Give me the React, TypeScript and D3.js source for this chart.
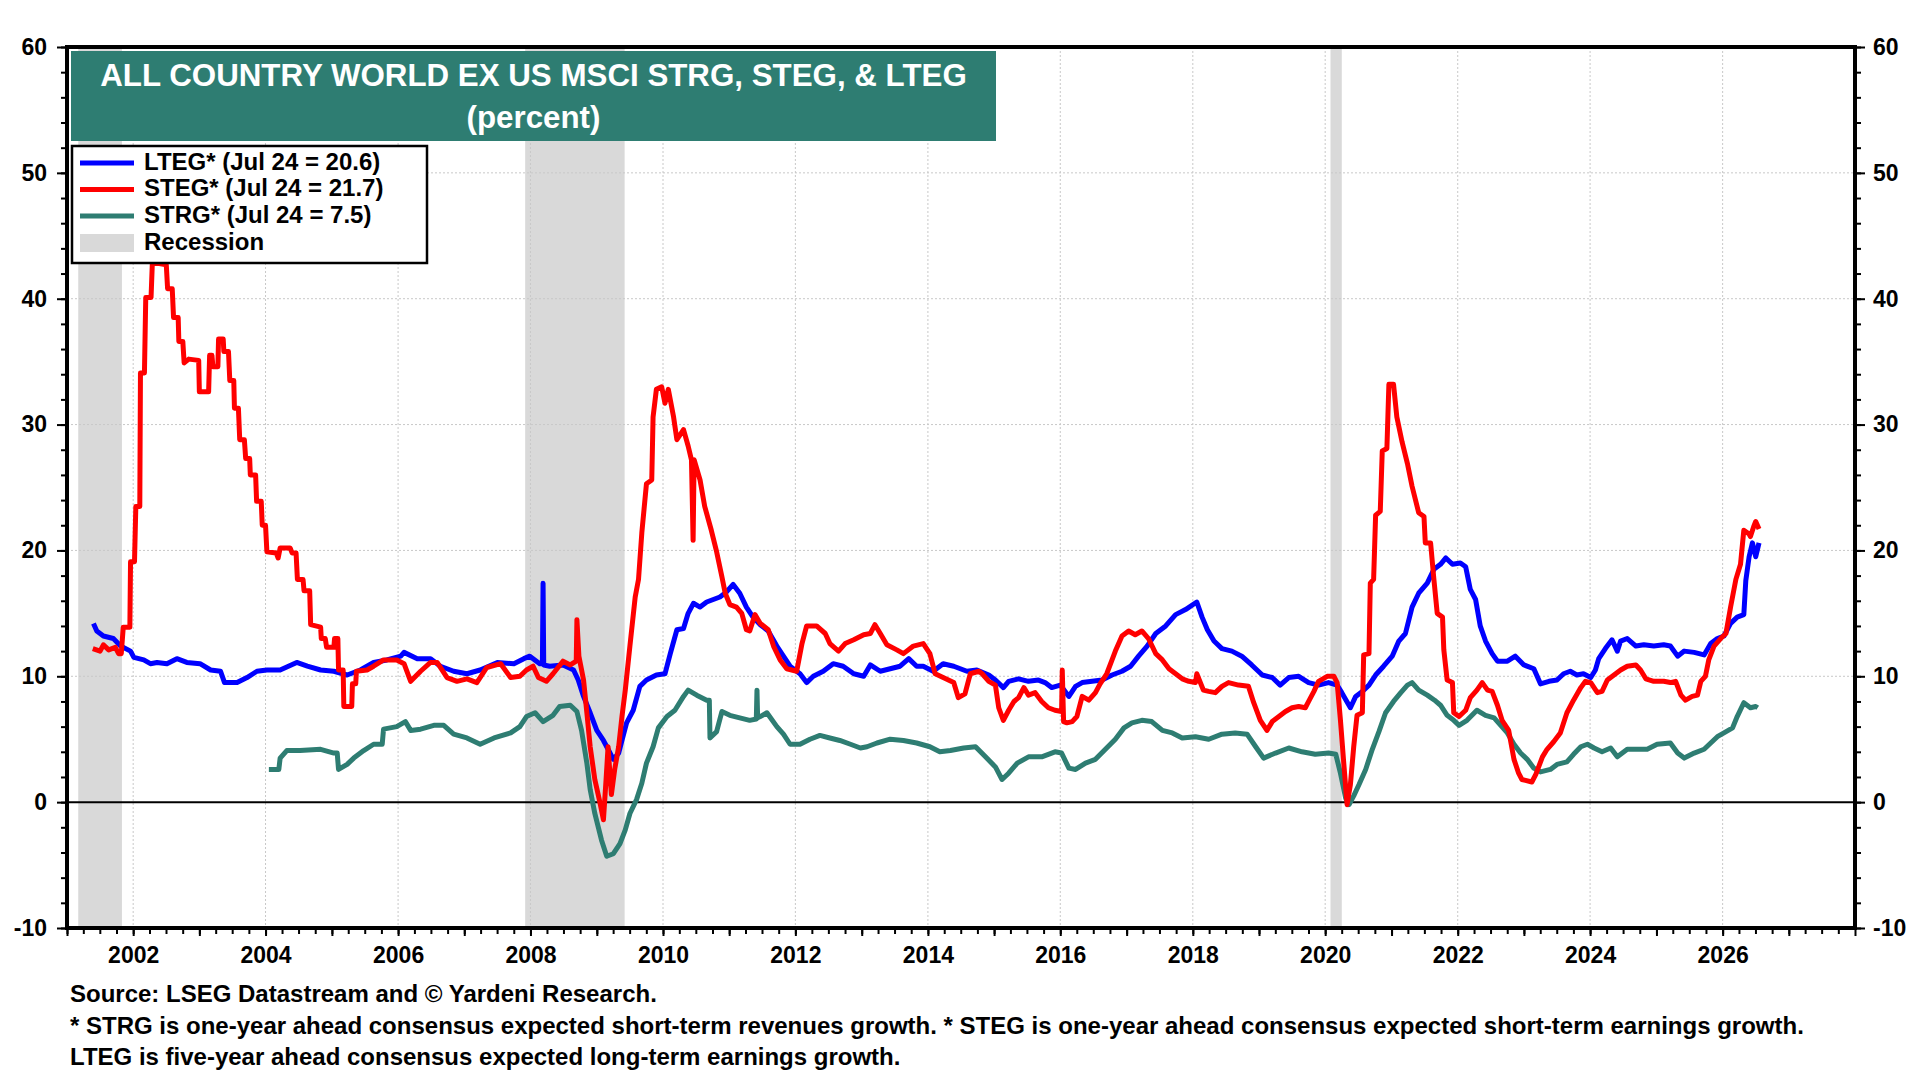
import * as d3 from 'd3';
import { useEffect, useRef } from 'react';

type Point = [number, number]; // [decimal year, percent]

// five-year ahead consensus expected long-term earnings growth
const LTEG: Point[] = [
    [2001.40, 14.2], [2001.45, 13.6], [2001.55, 13.2], [2001.70, 13.0], [2001.81, 12.4], [2001.96, 12.0],
    [2002.01, 11.5], [2002.16, 11.3], [2002.26, 11.0], [2002.36, 11.1], [2002.51, 11.0], [2002.66, 11.4],
    [2002.81, 11.1], [2003.01, 11.0], [2003.17, 10.5], [2003.32, 10.4], [2003.38, 9.5], [2003.57, 9.5],
    [2003.72, 9.9], [2003.87, 10.4], [2004.02, 10.5], [2004.22, 10.5], [2004.47, 11.1], [2004.63, 10.8],
    [2004.83, 10.5], [2005.03, 10.4], [2005.23, 10.1], [2005.43, 10.5], [2005.63, 11.1], [2005.83, 11.3],
    [2006.04, 11.6], [2006.09, 11.9], [2006.29, 11.4], [2006.49, 11.4], [2006.64, 10.8], [2006.84, 10.4],
    [2007.04, 10.2], [2007.24, 10.5], [2007.50, 11.1], [2007.75, 11.0], [2007.90, 11.4], [2007.99, 11.6],
    [2008.14, 11.0], [2008.18, 11.0], [2008.19, 17.4], [2008.20, 10.9], [2008.29, 10.8], [2008.49, 10.9],
    [2008.65, 10.5], [2008.72, 9.7], [2008.80, 8.4], [2008.90, 7.1], [2009.00, 5.7], [2009.10, 4.9],
    [2009.17, 4.2], [2009.25, 3.4], [2009.33, 3.9], [2009.38, 4.9], [2009.45, 6.3], [2009.55, 7.3],
    [2009.65, 9.2], [2009.75, 9.7], [2009.90, 10.1], [2010.03, 10.2], [2010.11, 11.8], [2010.21, 13.7],
    [2010.31, 13.8], [2010.38, 15.0], [2010.46, 15.8], [2010.56, 15.5], [2010.66, 15.9], [2010.76, 16.1],
    [2010.86, 16.3], [2010.96, 16.7], [2011.06, 17.3], [2011.16, 16.6], [2011.26, 15.5], [2011.36, 14.7],
    [2011.47, 14.1], [2011.59, 13.6], [2011.72, 12.4], [2011.82, 11.6], [2011.92, 10.8], [2012.07, 10.2],
    [2012.17, 9.5], [2012.27, 10.0], [2012.42, 10.4], [2012.57, 11.0], [2012.72, 10.8], [2012.88, 10.2],
    [2013.03, 10.0], [2013.13, 10.9], [2013.28, 10.4], [2013.43, 10.6], [2013.58, 10.8], [2013.71, 11.4],
    [2013.83, 10.8], [2013.93, 10.8], [2014.08, 10.4], [2014.23, 11.0], [2014.39, 10.8], [2014.59, 10.4],
    [2014.74, 10.5], [2014.92, 10.1], [2015.02, 9.7], [2015.14, 9.1], [2015.22, 9.6], [2015.37, 9.8],
    [2015.52, 9.6], [2015.67, 9.7], [2015.77, 9.5], [2015.87, 9.1], [2016.00, 9.3], [2016.13, 8.4],
    [2016.23, 9.2], [2016.33, 9.5], [2016.48, 9.6], [2016.63, 9.7], [2016.78, 10.1], [2016.93, 10.4],
    [2017.06, 10.8], [2017.18, 11.6], [2017.31, 12.4], [2017.44, 13.4], [2017.59, 14.0], [2017.74, 14.9],
    [2017.89, 15.3], [2018.06, 15.9], [2018.14, 14.7], [2018.22, 13.7], [2018.32, 12.8], [2018.44, 12.2],
    [2018.59, 12.0], [2018.74, 11.6], [2018.89, 10.9], [2019.05, 10.1], [2019.20, 9.9], [2019.32, 9.3],
    [2019.45, 9.9], [2019.60, 10.0], [2019.75, 9.5], [2019.90, 9.3], [2020.05, 9.5], [2020.18, 9.3],
    [2020.25, 8.7], [2020.38, 7.5], [2020.46, 8.4], [2020.56, 8.8], [2020.66, 9.3], [2020.76, 10.1],
    [2020.88, 10.8], [2021.01, 11.6], [2021.11, 12.8], [2021.21, 13.4], [2021.31, 15.5], [2021.41, 16.6],
    [2021.54, 17.4], [2021.64, 18.5], [2021.74, 18.9], [2021.82, 19.4], [2021.92, 18.9], [2022.04, 19.0],
    [2022.12, 18.7], [2022.19, 16.9], [2022.27, 16.1], [2022.34, 14.0], [2022.42, 12.8], [2022.52, 11.8],
    [2022.60, 11.2], [2022.75, 11.2], [2022.87, 11.6], [2023.00, 10.9], [2023.15, 10.6], [2023.25, 9.4],
    [2023.38, 9.6], [2023.50, 9.7], [2023.60, 10.2], [2023.70, 10.4], [2023.80, 10.1], [2023.90, 10.2],
    [2024.01, 9.9], [2024.08, 10.5], [2024.13, 11.4], [2024.23, 12.2], [2024.33, 12.9], [2024.41, 12.0],
    [2024.46, 12.8], [2024.56, 13.0], [2024.69, 12.4], [2024.81, 12.5], [2024.96, 12.4], [2025.11, 12.5],
    [2025.21, 12.4], [2025.32, 11.6], [2025.42, 12.0], [2025.57, 11.9], [2025.72, 11.7], [2025.82, 12.6],
    [2025.92, 13.0], [2026.02, 13.2], [2026.12, 14.2], [2026.22, 14.7], [2026.32, 14.9], [2026.35, 17.6],
    [2026.40, 19.5], [2026.45, 20.6], [2026.50, 19.5], [2026.55, 20.6],
];

// one-year ahead consensus expected short-term earnings growth
const STEG: Point[] = [
    [2001.39, 12.2], [2001.50, 12.0], [2001.55, 12.5], [2001.63, 12.1], [2001.73, 12.3], [2001.78, 11.8],
    [2001.82, 11.8], [2001.85, 13.9], [2001.95, 13.9], [2001.96, 19.1], [2002.02, 19.1], [2002.04, 23.5],
    [2002.10, 23.5], [2002.11, 34.1], [2002.17, 34.1], [2002.19, 40.1], [2002.27, 40.1], [2002.29, 42.9],
    [2002.50, 42.7], [2002.52, 40.8], [2002.59, 40.8], [2002.61, 38.5], [2002.68, 38.5], [2002.69, 36.6],
    [2002.75, 36.6], [2002.77, 34.9], [2002.84, 35.2], [2002.99, 35.1], [2003.00, 32.6], [2003.14, 32.6],
    [2003.155, 35.5], [2003.19, 35.5], [2003.205, 34.6], [2003.28, 34.6], [2003.29, 36.8], [2003.36, 36.8],
    [2003.37, 35.8], [2003.44, 35.8], [2003.46, 33.5], [2003.52, 33.5], [2003.53, 31.3], [2003.59, 31.3],
    [2003.61, 28.8], [2003.68, 28.8], [2003.70, 27.3], [2003.76, 27.3], [2003.77, 26.0], [2003.85, 26.0],
    [2003.865, 23.9], [2003.935, 23.9], [2003.95, 22.0], [2004.00, 22.0], [2004.02, 19.9], [2004.16, 19.8],
    [2004.19, 19.4], [2004.22, 20.2], [2004.37, 20.2], [2004.40, 19.8], [2004.46, 19.8], [2004.48, 17.7],
    [2004.565, 17.7], [2004.58, 16.8], [2004.665, 16.8], [2004.68, 14.1], [2004.83, 13.9], [2004.84, 13.0],
    [2004.90, 13.0], [2004.92, 12.3], [2005.03, 12.3], [2005.04, 13.0], [2005.09, 13.0], [2005.10, 10.5],
    [2005.17, 10.5], [2005.18, 7.6], [2005.30, 7.6], [2005.31, 9.4], [2005.36, 9.4], [2005.37, 10.4],
    [2005.53, 10.5], [2005.63, 10.8], [2005.78, 11.3], [2005.98, 11.3], [2006.09, 11.0], [2006.19, 9.6],
    [2006.34, 10.4], [2006.49, 11.1], [2006.59, 11.1], [2006.74, 9.9], [2006.89, 9.6], [2007.04, 9.8],
    [2007.19, 9.5], [2007.34, 10.7], [2007.55, 11.0], [2007.70, 9.9], [2007.84, 10.0], [2007.94, 10.5],
    [2008.04, 10.8], [2008.12, 9.9], [2008.24, 9.6], [2008.34, 10.2], [2008.49, 11.2], [2008.60, 10.9],
    [2008.69, 11.2], [2008.70, 14.5], [2008.73, 11.6], [2008.80, 9.7], [2008.85, 7.1], [2008.90, 4.4],
    [2008.97, 1.8], [2009.05, -0.1], [2009.10, -1.4], [2009.14, 1.8], [2009.17, 4.4], [2009.22, 0.6],
    [2009.27, 2.6], [2009.33, 4.4], [2009.38, 6.8], [2009.43, 8.9], [2009.50, 12.4], [2009.58, 16.3],
    [2009.63, 17.7], [2009.68, 21.4], [2009.75, 25.3], [2009.83, 25.6], [2009.85, 30.6], [2009.90, 32.8],
    [2009.98, 33.0], [2010.03, 31.7], [2010.08, 32.8], [2010.16, 30.6], [2010.21, 28.8], [2010.31, 29.6],
    [2010.38, 28.3], [2010.43, 27.2], [2010.455, 20.8], [2010.47, 27.2], [2010.56, 25.6], [2010.63, 23.5],
    [2010.73, 21.6], [2010.81, 19.9], [2010.89, 17.9], [2010.94, 16.6], [2011.01, 15.7], [2011.11, 15.5],
    [2011.19, 15.0], [2011.26, 13.7], [2011.31, 13.6], [2011.39, 14.9], [2011.47, 14.2], [2011.59, 13.7],
    [2011.67, 12.4], [2011.77, 11.3], [2011.87, 10.6], [2012.02, 10.4], [2012.10, 12.6], [2012.17, 14.0],
    [2012.32, 14.0], [2012.45, 13.4], [2012.52, 12.6], [2012.65, 12.0], [2012.75, 12.6], [2012.88, 12.9],
    [2013.03, 13.3], [2013.13, 13.4], [2013.20, 14.1], [2013.28, 13.4], [2013.38, 12.5], [2013.53, 12.1],
    [2013.63, 11.8], [2013.78, 12.4], [2013.93, 12.6], [2014.03, 11.8], [2014.11, 10.2], [2014.23, 9.9],
    [2014.39, 9.5], [2014.46, 8.3], [2014.56, 8.6], [2014.64, 10.2], [2014.77, 10.4], [2014.82, 10.2],
    [2014.92, 9.6], [2015.02, 9.3], [2015.07, 7.5], [2015.14, 6.5], [2015.22, 7.3], [2015.30, 8.0],
    [2015.37, 8.3], [2015.45, 9.1], [2015.52, 8.5], [2015.62, 8.7], [2015.72, 8.0], [2015.82, 7.5],
    [2015.92, 7.3], [2016.02, 7.2], [2016.03, 10.5], [2016.05, 6.4], [2016.10, 6.3], [2016.18, 6.4],
    [2016.25, 6.8], [2016.33, 8.4], [2016.43, 8.1], [2016.53, 8.7], [2016.60, 9.4], [2016.70, 10.2],
    [2016.78, 11.3], [2016.83, 12.0], [2016.93, 13.2], [2017.03, 13.6], [2017.13, 13.3], [2017.23, 13.6],
    [2017.33, 13.0], [2017.44, 11.8], [2017.54, 11.3], [2017.64, 10.6], [2017.74, 10.2], [2017.84, 9.8],
    [2017.94, 9.6], [2018.04, 9.5], [2018.06, 10.2], [2018.16, 8.9], [2018.24, 8.8], [2018.34, 8.7],
    [2018.44, 9.2], [2018.54, 9.5], [2018.69, 9.3], [2018.84, 9.2], [2018.92, 7.9], [2019.02, 6.5],
    [2019.12, 5.7], [2019.20, 6.4], [2019.30, 6.8], [2019.40, 7.2], [2019.50, 7.5], [2019.60, 7.6],
    [2019.70, 7.5], [2019.75, 8.0], [2019.83, 8.8], [2019.90, 9.6], [2020.03, 10.0], [2020.13, 10.0],
    [2020.18, 9.5], [2020.23, 6.5], [2020.28, 3.1], [2020.33, -0.2], [2020.38, 1.4], [2020.43, 4.4],
    [2020.48, 6.9], [2020.56, 7.1], [2020.58, 11.7], [2020.66, 11.8], [2020.68, 17.4], [2020.73, 17.7],
    [2020.76, 22.8], [2020.83, 23.1], [2020.86, 27.9], [2020.93, 28.1], [2020.96, 33.2], [2021.03, 33.2],
    [2021.08, 30.6], [2021.16, 28.6], [2021.24, 26.9], [2021.31, 25.1], [2021.41, 23.0], [2021.49, 22.7],
    [2021.51, 20.6], [2021.59, 20.6], [2021.64, 17.7], [2021.69, 15.0], [2021.77, 14.7], [2021.79, 12.1],
    [2021.84, 9.7], [2021.92, 9.5], [2021.94, 7.1], [2022.02, 6.8], [2022.12, 7.3], [2022.19, 8.3],
    [2022.29, 8.9], [2022.37, 9.5], [2022.45, 8.9], [2022.52, 8.8], [2022.60, 7.7], [2022.67, 6.5],
    [2022.77, 5.7], [2022.85, 3.4], [2022.92, 2.3], [2022.97, 1.8], [2023.12, 1.6], [2023.18, 2.2],
    [2023.28, 3.6], [2023.35, 4.2], [2023.45, 4.8], [2023.55, 5.5], [2023.65, 7.1], [2023.75, 8.1],
    [2023.86, 9.1], [2023.93, 9.6], [2024.01, 9.5], [2024.11, 8.7], [2024.18, 8.8], [2024.26, 9.7],
    [2024.36, 10.1], [2024.46, 10.5], [2024.56, 10.8], [2024.69, 10.9], [2024.76, 10.5], [2024.84, 9.8],
    [2024.96, 9.6], [2025.11, 9.6], [2025.21, 9.5], [2025.29, 9.6], [2025.37, 8.5], [2025.44, 8.1],
    [2025.54, 8.4], [2025.62, 8.5], [2025.67, 9.6], [2025.74, 10.0], [2025.79, 11.3], [2025.87, 12.4],
    [2025.97, 13.0], [2026.05, 13.4], [2026.12, 15.5], [2026.20, 17.7], [2026.27, 18.9], [2026.32, 21.6],
    [2026.40, 21.3], [2026.42, 21.1], [2026.47, 21.9], [2026.50, 22.3], [2026.55, 21.7],
];

// one-year ahead consensus expected short-term revenues growth
const STRG: Point[] = [
    [2004.05, 2.6], [2004.20, 2.6], [2004.22, 3.5], [2004.32, 4.1], [2004.52, 4.1], [2004.83, 4.2],
    [2005.03, 3.9], [2005.08, 3.9], [2005.10, 2.6], [2005.23, 3.0], [2005.33, 3.5], [2005.48, 4.1],
    [2005.63, 4.6], [2005.76, 4.6], [2005.78, 5.8], [2005.98, 6.0], [2006.11, 6.4], [2006.19, 5.7],
    [2006.34, 5.8], [2006.54, 6.1], [2006.69, 6.1], [2006.84, 5.4], [2007.04, 5.1], [2007.24, 4.6],
    [2007.45, 5.1], [2007.70, 5.5], [2007.84, 6.0], [2007.94, 6.8], [2008.07, 7.1], [2008.19, 6.4],
    [2008.34, 6.9], [2008.44, 7.6], [2008.60, 7.7], [2008.70, 7.2], [2008.77, 5.7], [2008.85, 3.1],
    [2008.90, 1.0], [2008.97, -0.9], [2009.07, -3.0], [2009.15, -4.3], [2009.25, -4.1], [2009.35, -3.3],
    [2009.43, -2.2], [2009.50, -0.9], [2009.60, 0.2], [2009.68, 1.5], [2009.75, 3.1], [2009.85, 4.4],
    [2009.93, 5.9], [2010.06, 6.8], [2010.18, 7.3], [2010.31, 8.4], [2010.38, 8.9], [2010.51, 8.5],
    [2010.66, 8.1], [2010.70, 8.1], [2010.71, 5.1], [2010.81, 5.6], [2010.89, 7.2], [2011.01, 6.9],
    [2011.16, 6.7], [2011.31, 6.5], [2011.41, 6.6], [2011.42, 8.9], [2011.43, 6.7], [2011.47, 6.8],
    [2011.57, 7.1], [2011.72, 6.0], [2011.82, 5.4], [2011.92, 4.6], [2012.07, 4.6], [2012.22, 5.0],
    [2012.37, 5.3], [2012.52, 5.1], [2012.67, 4.9], [2012.83, 4.6], [2012.98, 4.3], [2013.08, 4.4],
    [2013.23, 4.7], [2013.43, 5.0], [2013.63, 4.9], [2013.83, 4.7], [2014.03, 4.4], [2014.18, 4.0],
    [2014.34, 4.1], [2014.54, 4.3], [2014.72, 4.4], [2014.87, 3.6], [2015.02, 2.8], [2015.12, 1.8],
    [2015.22, 2.3], [2015.35, 3.1], [2015.52, 3.6], [2015.72, 3.6], [2015.92, 4.0], [2016.02, 3.9],
    [2016.13, 2.7], [2016.23, 2.6], [2016.38, 3.1], [2016.53, 3.4], [2016.68, 4.2], [2016.83, 5.0],
    [2016.96, 5.9], [2017.08, 6.3], [2017.23, 6.5], [2017.38, 6.4], [2017.54, 5.7], [2017.69, 5.5],
    [2017.84, 5.1], [2018.04, 5.2], [2018.24, 5.0], [2018.44, 5.4], [2018.64, 5.5], [2018.82, 5.4],
    [2018.95, 4.4], [2019.07, 3.5], [2019.25, 3.9], [2019.45, 4.3], [2019.65, 4.0], [2019.85, 3.8],
    [2020.05, 3.9], [2020.16, 3.8], [2020.23, 2.3], [2020.31, 0.3], [2020.36, -0.2], [2020.43, 0.5],
    [2020.51, 1.4], [2020.61, 2.6], [2020.71, 4.2], [2020.81, 5.6], [2020.91, 7.1], [2021.03, 8.0],
    [2021.14, 8.7], [2021.24, 9.3], [2021.31, 9.5], [2021.41, 8.9], [2021.54, 8.5], [2021.65, 8.1],
    [2021.74, 7.7], [2021.84, 6.9], [2021.94, 6.5], [2022.02, 6.1], [2022.14, 6.5], [2022.29, 7.3],
    [2022.42, 6.9], [2022.55, 6.7], [2022.65, 6.1], [2022.75, 5.5], [2022.85, 4.6], [2022.95, 3.9],
    [2023.05, 3.4], [2023.15, 2.7], [2023.25, 2.4], [2023.40, 2.6], [2023.50, 3.0], [2023.65, 3.2],
    [2023.75, 3.8], [2023.86, 4.4], [2023.96, 4.6], [2024.06, 4.3], [2024.18, 4.0], [2024.31, 4.3],
    [2024.41, 3.6], [2024.56, 4.2], [2024.71, 4.2], [2024.86, 4.2], [2025.01, 4.6], [2025.21, 4.7],
    [2025.32, 3.9], [2025.42, 3.5], [2025.57, 3.9], [2025.72, 4.2], [2025.82, 4.7], [2025.92, 5.2],
    [2026.02, 5.5], [2026.15, 5.9], [2026.22, 6.8], [2026.32, 7.9], [2026.42, 7.5], [2026.50, 7.6],
    [2026.53, 7.5],
];

const RECESSIONS: [number, number][] = [[2001.17, 2001.83], [2007.92, 2009.42], [2020.08, 2020.25]];

const Y_TICKS = [-10, 0, 10, 20, 30, 40, 50, 60];
const X_LABELS = ['2002', '2004', '2006', '2008', '2010', '2012', '2014', '2016', '2018', '2020', '2022', '2024', '2026'];

const TITLE_LINES = ['ALL COUNTRY WORLD EX US MSCI STRG, STEG, & LTEG', '(percent)'];
const LEGEND_LABELS = ['LTEG* (Jul 24 = 20.6)', 'STEG* (Jul 24 = 21.7)', 'STRG* (Jul 24 = 7.5)', 'Recession'];
const FOOTNOTES = [
    'Source: LSEG Datastream and \u00a9 Yardeni Research.',
    '* STRG is one-year ahead consensus expected short-term revenues growth. * STEG is one-year ahead consensus expected short-term earnings growth.',
    'LTEG is five-year ahead consensus expected long-term earnings growth.',
];

const BLUE = '#0000ff';
const RED = '#ff0000';
const TEAL = '#2e7d72';
const FONT = '"Liberation Sans", Arial, sans-serif';

// decimal year -> UTC date
const toDate = (yr: number) => {
    const y = Math.floor(yr);
    const start = Date.UTC(y, 0, 1);
    const end = Date.UTC(y + 1, 0, 1);
    return new Date(start + (yr - y) * (end - start));
};

const App = () => {
    const ref = useRef<SVGSVGElement | null>(null);

    useEffect(() => {
        if (!ref.current) return;
        document.body.style.margin = '0';

        const width = 1920;
        const height = 1080;
        const margin = { top: 47, right: 65, bottom: 152, left: 67 };
        const left = margin.left;
        const right = width - margin.right;
        const top = margin.top;
        const bottom = height - margin.bottom;

        const svg = d3.select(ref.current);
        svg.selectAll('*').remove();

        const x = d3.scaleUtc()
            .domain([toDate(2001), toDate(2028)])
            .range([left, right]);

        const y = d3.scaleLinear()
            .domain([-10, 60])
            .range([bottom, top]);

        svg.append('rect').attr('width', width).attr('height', height).attr('fill', '#fff');

        svg.append('defs').append('clipPath').attr('id', 'plot-clip')
            .append('rect')
            .attr('x', left).attr('y', top)
            .attr('width', right - left).attr('height', bottom - top);

        // recession bands
        svg.append('g')
            .selectAll('rect')
            .data(RECESSIONS)
            .join('rect')
            .attr('x', d => x(toDate(d[0])))
            .attr('y', top)
            .attr('width', d => x(toDate(d[1])) - x(toDate(d[0])))
            .attr('height', bottom - top)
            .attr('fill', '#d9d9d9');

        // dotted grid
        const grid = svg.append('g')
            .attr('stroke', '#c8c8c8')
            .attr('stroke-width', 1)
            .attr('stroke-dasharray', '2,2');

        grid.selectAll('line.h')
            .data(Y_TICKS.filter(v => v > -10 && v < 60 && v !== 0))
            .join('line')
            .attr('class', 'h')
            .attr('x1', left).attr('x2', right)
            .attr('y1', d => y(d)).attr('y2', d => y(d));

        grid.selectAll('line.v')
            .data(X_LABELS)
            .join('line')
            .attr('class', 'v')
            .attr('x1', d => x(toDate(+d))).attr('x2', d => x(toDate(+d)))
            .attr('y1', top).attr('y2', bottom);

        // zero line
        svg.append('line')
            .attr('x1', left).attr('x2', right)
            .attr('y1', y(0)).attr('y2', y(0))
            .attr('stroke', '#000')
            .attr('stroke-width', 2);

        const line = d3.line<Point>()
            .x(d => x(toDate(d[0])))
            .y(d => y(d[1]));

        const lines = svg.append('g').attr('clip-path', 'url(#plot-clip)');
        [
            { data: STRG, color: TEAL },
            { data: LTEG, color: BLUE },
            { data: STEG, color: RED },
        ].forEach(s => {
            lines.append('path')
                .datum(s.data)
                .attr('fill', 'none')
                .attr('stroke', s.color)
                .attr('stroke-width', 5)
                .attr('stroke-linejoin', 'round')
                .attr('d', line);
        });

        // axes
        const styleAxis = (g: d3.Selection<SVGGElement, unknown, null, undefined>) => {
            g.select('.domain').remove();
            g.selectAll('line').attr('stroke', '#000').attr('stroke-width', 2);
            g.attr('font-family', FONT).attr('font-size', 23).attr('font-weight', 'bold');
            g.selectAll('text').attr('fill', '#000');
        };

        const yMinor = d3.range(-10, 61, 2);
        const blank = () => '';
        const plain = (d: d3.NumberValue) => String(d);

        svg.append('g').attr('transform', `translate(${left},0)`)
            .call(d3.axisLeft(y).tickValues(yMinor).tickSize(6).tickFormat(blank))
            .call(styleAxis);
        svg.append('g').attr('transform', `translate(${left},0)`)
            .call(d3.axisLeft(y).tickValues(Y_TICKS).tickSize(10).tickPadding(10).tickFormat(plain))
            .call(styleAxis);
        svg.append('g').attr('transform', `translate(${right},0)`)
            .call(d3.axisRight(y).tickValues(yMinor).tickSize(6).tickFormat(blank))
            .call(styleAxis);
        svg.append('g').attr('transform', `translate(${right},0)`)
            .call(d3.axisRight(y).tickValues(Y_TICKS).tickSize(10).tickPadding(8).tickFormat(plain))
            .call(styleAxis);

        const quarters = d3.utcMonth.every(3)!.range(toDate(2001), toDate(2028));
        const years = d3.utcYear.range(toDate(2001), toDate(2028.01));
        svg.append('g').attr('transform', `translate(0,${bottom})`)
            .call(d3.axisBottom(x).tickValues(quarters).tickSize(6).tickFormat(blank))
            .call(styleAxis);
        svg.append('g').attr('transform', `translate(0,${bottom})`)
            .call(d3.axisBottom(x).tickValues(years).tickSize(8).tickPadding(11)
                .tickFormat(d => {
                    const label = d3.utcFormat('%Y')(d as Date);
                    return X_LABELS.includes(label) ? label : '';
                }))
            .call(styleAxis);

        // plot frame
        svg.append('rect')
            .attr('x', left).attr('y', top)
            .attr('width', right - left).attr('height', bottom - top)
            .attr('fill', 'none')
            .attr('stroke', '#000')
            .attr('stroke-width', 4);

        // title box
        svg.append('rect')
            .attr('x', 71).attr('y', 51)
            .attr('width', 925).attr('height', 90)
            .attr('fill', TEAL);

        svg.append('text')
            .attr('x', 533.5).attr('y', 86)
            .attr('text-anchor', 'middle')
            .attr('fill', '#fff')
            .attr('font-family', FONT)
            .attr('font-weight', 'bold')
            .attr('font-size', 31.3)
            .selectAll('tspan')
            .data(TITLE_LINES)
            .join('tspan')
            .attr('x', 533.5)
            .attr('dy', (_, i) => (i === 0 ? 0 : 42))
            .text(d => d);

        // legend
        const legend = svg.append('g').attr('transform', 'translate(72,146)');
        legend.append('rect')
            .attr('width', 355).attr('height', 117)
            .attr('fill', '#fff')
            .attr('stroke', '#000')
            .attr('stroke-width', 2.5);

        const swatches = [BLUE, RED, TEAL];
        swatches.forEach((c, i) => {
            legend.append('line')
                .attr('x1', 8).attr('x2', 62)
                .attr('y1', 17 + i * 26.5).attr('y2', 17 + i * 26.5)
                .attr('stroke', c)
                .attr('stroke-width', 5);
        });
        legend.append('rect')
            .attr('x', 8).attr('y', 88)
            .attr('width', 54).attr('height', 18)
            .attr('fill', '#d9d9d9');

        legend.selectAll('text')
            .data(LEGEND_LABELS)
            .join('text')
            .attr('x', 72)
            .attr('y', (_, i) => 23.5 + i * 26.8)
            .attr('font-family', FONT)
            .attr('font-weight', 'bold')
            .attr('font-size', 24)
            .attr('fill', '#000')
            .text(d => d);

        // footnotes
        svg.append('g')
            .selectAll('text')
            .data(FOOTNOTES)
            .join('text')
            .attr('x', 70)
            .attr('y', (_, i) => 1002 + i * 31.5)
            .attr('font-family', FONT)
            .attr('font-weight', 'bold')
            .attr('font-size', 24)
            .attr('fill', '#000')
            .text(d => d);
    }, []);

    return (
        <svg
            ref={ref}
            width={1920}
            height={1080}
            style={{ position: 'absolute', left: 0, top: 0, display: 'block' }}
        />
    );
};

export default App;
